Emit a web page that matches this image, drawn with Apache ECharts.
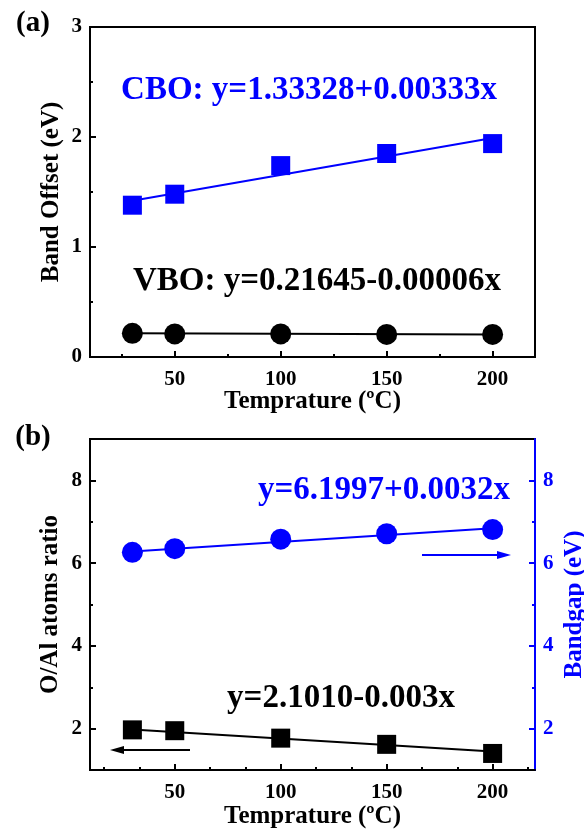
<!DOCTYPE html>
<html>
<head>
<meta charset="utf-8">
<script src="https://cdn.jsdelivr.net/npm/echarts@6/dist/echarts.min.js"></script>
<style>
  html, body { margin: 0; padding: 0; background: #fff; }
  #chart { width: 584px; height: 832px; }
</style>
</head>
<body>
<div id="chart"></div>
<script>
// temperatures (ºC)
const temps = [30, 50, 100, 150, 200];

// panel (a): band offsets (eV)
const cbo = [1.38, 1.48, 1.74, 1.85, 1.94];
const vbo = [0.215, 0.21, 0.21, 0.205, 0.205];
const cboFit = [[30, 1.42], [200, 1.99]];
const vboFit = [[30, 0.215], [200, 0.205]];

// panel (b): O/Al ratio and bandgap
const ratio = [1.97, 1.95, 1.77, 1.62, 1.40];
const gap = [6.26, 6.35, 6.58, 6.71, 6.81];
const ratioFit = [[30, 1.98], [200, 1.45]];
const gapFit = [[30, 6.28], [200, 6.84]];

// tick values
const xMajor = [50, 100, 150, 200];
const xMinorA = [25, 75, 125, 175];
const xMinorB = [16.67, 33.33, 66.67, 83.33, 116.67, 133.33, 166.67, 183.33, 216.67];
const yMajorA = [0, 1, 2, 3];
const yMinorA = [0.5, 1.5, 2.5];
const yMajorB = [2, 4, 6, 8];
const yMinorB = [3, 5, 7];

const FONT = '"Liberation Serif", "Times New Roman", serif';
const BLUE = '#0000ff';
const BLACK = '#000';

const myChart = echarts.init(document.getElementById('chart'));

function xAx(grid, ticks, minor, withName, nameGap) {
  return {
    type: 'value', gridIndex: grid, min: 10, max: 220, position: 'bottom',
    name: withName ? 'Temprature (ºC)' : '', nameLocation: 'middle', nameGap: nameGap,
    nameMoveOverlap: false,
    nameTextStyle: { color: BLACK, fontFamily: FONT, fontWeight: 'bold', fontSize: 25 },
    splitLine: { show: false },
    axisLine: { show: !minor, onZero: false, lineStyle: { color: BLACK, width: 2 } },
    axisTick: { show: true, inside: true, length: minor ? 3 : 6, customValues: ticks, lineStyle: { color: BLACK, width: 2 } },
    axisLabel: minor ? { show: false } : {
      show: true, customValues: ticks, margin: 12, color: BLACK,
      fontFamily: FONT, fontWeight: 'bold', fontSize: 21
    }
  };
}

function yAx(grid, min, max, ticks, minor, name, pos, color, nameGap) {
  return {
    type: 'value', gridIndex: grid, min: min, max: max, position: pos,
    name: name, nameLocation: 'middle', nameGap: nameGap, nameRotate: 90,
    nameMoveOverlap: false,
    nameTextStyle: { color: color, fontFamily: FONT, fontWeight: 'bold', fontSize: 25 },
    splitLine: { show: false },
    axisLine: { show: !minor, onZero: false, lineStyle: { color: color, width: 2 } },
    axisTick: { show: true, inside: true, length: minor ? 3 : 6, customValues: ticks, lineStyle: { color: color, width: 2 } },
    axisLabel: minor ? { show: false } : {
      show: true, customValues: ticks, margin: 8, color: color,
      fontFamily: FONT, fontWeight: 'bold', fontSize: 21
    }
  };
}

function txt(text, x, y, color, size) {
  return {
    type: 'text', x: x, y: y, z: 100,
    style: {
      text: text, fill: color, fontFamily: FONT, fontWeight: 'bold', fontSize: size,
      align: 'center', verticalAlign: 'middle'
    }
  };
}

function arrow(x1, x2, y, color) {
  const dir = x2 > x1 ? 1 : -1;
  return {
    type: 'group', z: 100,
    children: [
      { type: 'line', shape: { x1: x1, y1: y, x2: x2 - dir * 8, y2: y }, style: { stroke: color, lineWidth: 2 } },
      { type: 'polygon', shape: { points: [[x2, y], [x2 - dir * 14, y - 4], [x2 - dir * 14, y + 4]] }, style: { fill: color } }
    ]
  };
}

const withX = (vals) => vals.map((v, i) => [temps[i], v]);

const option = {
  animation: false,
  grid: [
    { left: 90, top: 27, width: 445, height: 330, show: true, borderColor: BLACK, borderWidth: 2, outerBoundsMode: 'none', containLabel: false },
    { left: 90, top: 439, width: 445, height: 331, show: true, borderColor: BLACK, borderWidth: 2, outerBoundsMode: 'none', containLabel: false }
  ],
  xAxis: [
    xAx(0, xMajor, false, true, 32),
    xAx(0, xMinorA, true, false, 0),
    xAx(1, xMajor, false, true, 34),
    xAx(1, xMinorB, true, false, 0)
  ],
  yAxis: [
    yAx(0, 0, 3, yMajorA, false, 'Band Offset (eV)', 'left', BLACK, 26),
    yAx(0, 0, 3, yMinorA, true, '', 'left', BLACK, 0),
    yAx(1, 1, 9, yMajorB, false, 'O/Al atoms ratio', 'left', BLACK, 27),
    yAx(1, 1, 9, yMinorB, true, '', 'left', BLACK, 0),
    yAx(1, 1, 9, yMajorB, false, 'Bandgap (eV)', 'right', BLUE, 27),
    yAx(1, 1, 9, yMinorB, true, '', 'right', BLUE, 0)
  ],
  series: [
    { type: 'line', xAxisIndex: 0, yAxisIndex: 0, data: cboFit, symbol: 'none', lineStyle: { color: BLUE, width: 2 }, z: 2 },
    { type: 'scatter', xAxisIndex: 0, yAxisIndex: 0, data: withX(cbo), symbol: 'rect', symbolSize: 19, itemStyle: { color: BLUE, opacity: 1 }, z: 3 },
    { type: 'line', xAxisIndex: 0, yAxisIndex: 0, data: vboFit, symbol: 'none', lineStyle: { color: BLACK, width: 2 }, z: 2 },
    { type: 'scatter', xAxisIndex: 0, yAxisIndex: 0, data: withX(vbo), symbol: 'circle', symbolSize: 21, itemStyle: { color: BLACK, opacity: 1 }, z: 3 },
    { type: 'line', xAxisIndex: 2, yAxisIndex: 2, data: ratioFit, symbol: 'none', lineStyle: { color: BLACK, width: 2 }, z: 2 },
    { type: 'scatter', xAxisIndex: 2, yAxisIndex: 2, data: withX(ratio), symbol: 'rect', symbolSize: 19, itemStyle: { color: BLACK, opacity: 1 }, z: 3 },
    { type: 'line', xAxisIndex: 2, yAxisIndex: 4, data: gapFit, symbol: 'none', lineStyle: { color: BLUE, width: 2 }, z: 2 },
    { type: 'scatter', xAxisIndex: 2, yAxisIndex: 4, data: withX(gap), symbol: 'circle', symbolSize: 21, itemStyle: { color: BLUE, opacity: 1 }, z: 3 }
  ],
  graphic: [
    txt('(a)', 33, 24, BLACK, 29),
    txt('(b)', 33, 438, BLACK, 29),
    txt('CBO: y=1.33328+0.00333x', 309, 90, BLUE, 33),
    txt('VBO: y=0.21645-0.00006x', 317, 281, BLACK, 33),
    txt('y=6.1997+0.0032x', 384, 490, BLUE, 33),
    txt('y=2.1010-0.003x', 341, 698, BLACK, 33),
    arrow(422, 511, 555, BLUE),
    arrow(190, 110, 750, BLACK)
  ]
};

myChart.setOption(option);
</script>
</body>
</html>
